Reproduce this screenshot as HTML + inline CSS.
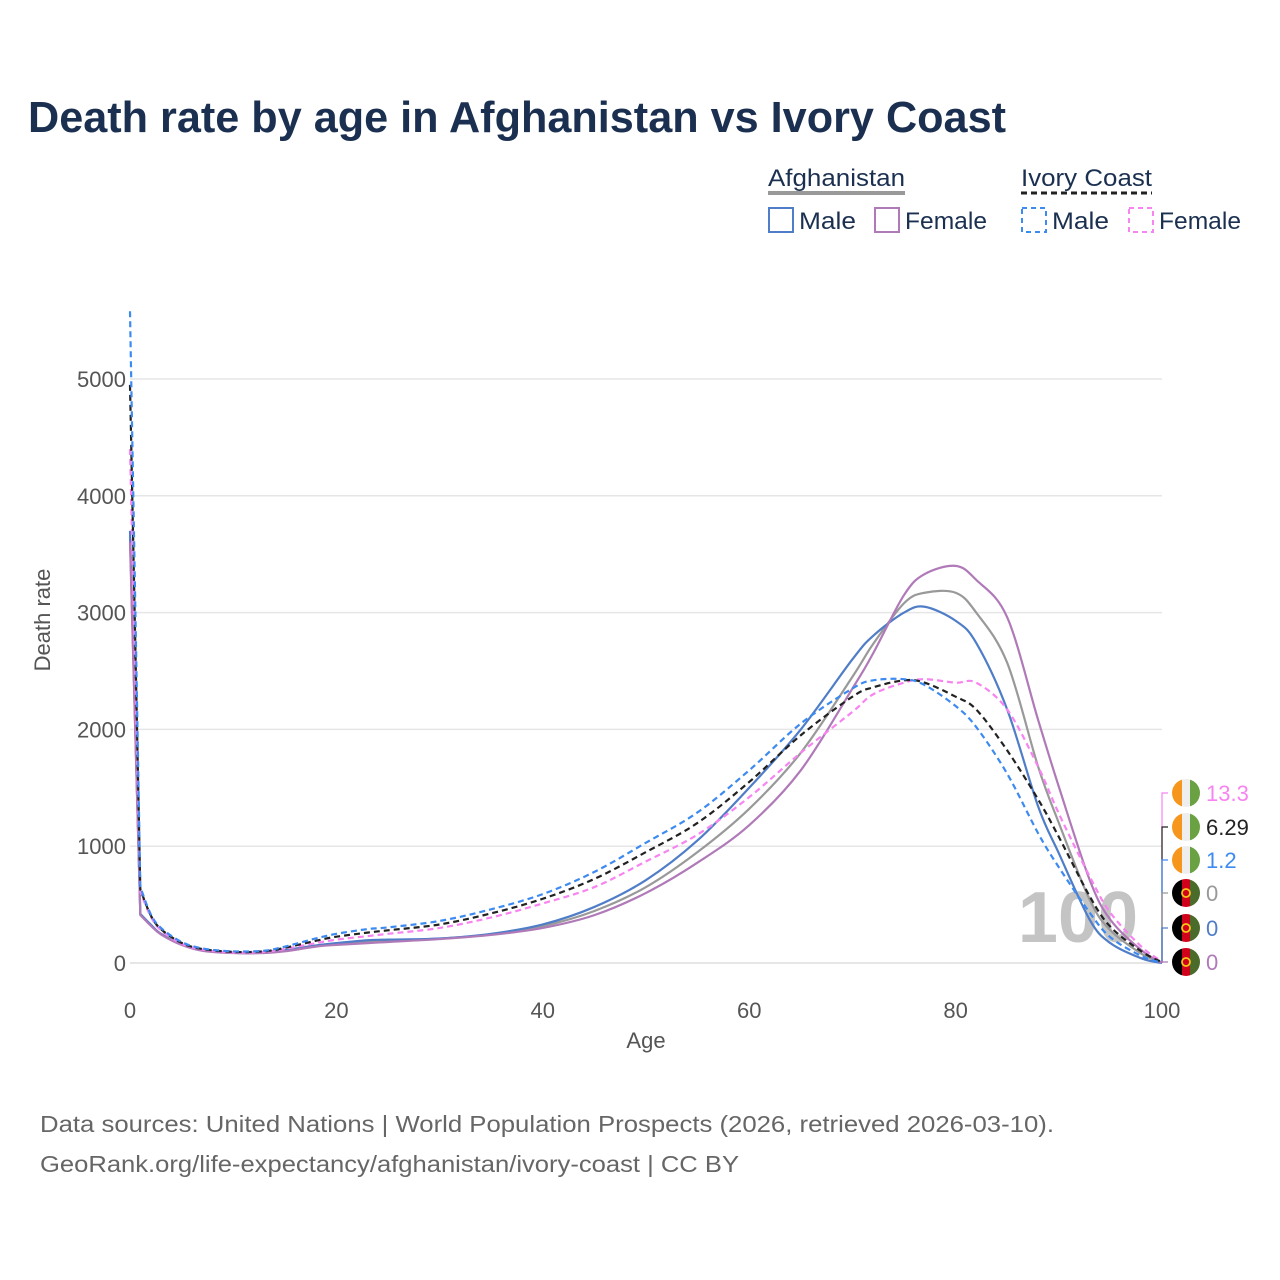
<!DOCTYPE html>
<html><head><meta charset="utf-8"><style>
html,body{margin:0;padding:0;background:#fff;}
svg{display:block;font-family:"Liberation Sans",sans-serif;}
</style></head><body>
<svg id="chart" width="1280" height="1280" viewBox="0 0 1280 1280">
<text x="28" y="132" font-size="44" font-weight="bold" fill="#1b3050" textLength="978" lengthAdjust="spacingAndGlyphs">Death rate by age in Afghanistan vs Ivory Coast</text>
<g>
<text x="768" y="186" font-size="24" fill="#1b3050" textLength="137" lengthAdjust="spacingAndGlyphs">Afghanistan</text>
<line x1="768" y1="193" x2="905" y2="193" stroke="#999" stroke-width="4"/>
<text x="1021" y="186" font-size="24" fill="#1b3050" textLength="131" lengthAdjust="spacingAndGlyphs">Ivory Coast</text>
<line x1="1021" y1="193" x2="1152" y2="193" stroke="#222" stroke-width="3" stroke-dasharray="6,4"/>
<g><rect x="769" y="208" width="24" height="24" fill="none" stroke="#4f7dc7" stroke-width="2"/><text x="799" y="229" font-size="24" fill="#1b3050" textLength="57" lengthAdjust="spacingAndGlyphs">Male</text></g>
<g><rect x="875" y="208" width="24" height="24" fill="none" stroke="#b07ab8" stroke-width="2"/><text x="905" y="229" font-size="24" fill="#1b3050" textLength="82" lengthAdjust="spacingAndGlyphs">Female</text></g>
<g><rect x="1022" y="208" width="24" height="24" fill="none" stroke="#3d8af0" stroke-width="2" stroke-dasharray="5,4"/><text x="1052" y="229" font-size="24" fill="#1b3050" textLength="57" lengthAdjust="spacingAndGlyphs">Male</text></g>
<g><rect x="1129" y="208" width="24" height="24" fill="none" stroke="#f784f0" stroke-width="2" stroke-dasharray="5,4"/><text x="1159" y="229" font-size="24" fill="#1b3050" textLength="82" lengthAdjust="spacingAndGlyphs">Female</text></g>
</g>
<g id="grid"></g>
<text x="1078" y="942" font-size="72" font-weight="bold" fill="#c4c4c4" text-anchor="middle">100</text>
<g id="series"></g>
<g id="axes"></g>
<g id="endlabels"></g>
<text x="50" y="620" font-size="22" fill="#555" text-anchor="middle" transform="rotate(-90 50 620)">Death rate</text>
<text x="646" y="1048" font-size="22" fill="#555" text-anchor="middle">Age</text>
<text x="40" y="1132" font-size="23" fill="#666" textLength="1014" lengthAdjust="spacingAndGlyphs">Data sources: United Nations | World Population Prospects (2026, retrieved 2026-03-10).</text>
<text x="40" y="1172" font-size="23" fill="#666" textLength="699" lengthAdjust="spacingAndGlyphs">GeoRank.org/life-expectancy/afghanistan/ivory-coast | CC BY</text>
</svg>
<script>
const ages =        [0,   1,  2,  3,  5,  7, 10, 13, 15, 18, 20, 23, 25, 30, 35, 40, 45, 50, 55,  60,  65,  70,  72,  75,  77,  80,  82,  85,  88,  90, 93, 95, 98,100];
const afgMale =     [3700,420,330,250,160,110, 90, 90,110,150,170,195,200,210,250,330,480,710,1050,1500,2000,2600,2800,3000,3050,2930,2740,2170,1340,940,370,170, 40, 0];
const afgFemale =   [3600,410,320,245,155,105, 85, 85,100,140,155,170,180,205,240,300,410,600, 860,1180,1650,2350,2650,3150,3330,3400,3280,2960,2080,1510,710,370,110, 0];
const afgTotal =    [3650,415,325,248,158,108, 88, 88,105,145,162,182,190,208,245,315,445,650, 950,1320,1800,2450,2730,3080,3170,3170,3000,2570,1680,1200,540,280, 80, 0];
const icMale =      [5580,650,420,300,180,125,100,105,140,210,250,290,305,360,460,590,780,1030,1290,1650,2050,2350,2420,2430,2380,2200,2020,1620,1110,820,430,220, 60, 1.2];
const icFemale =    [4400,610,400,280,165,115, 90, 95,120,170,200,230,250,300,390,510,650, 870,1100,1420,1800,2150,2300,2400,2430,2400,2400,2170,1680,1280,740,430,140,13.3];
const icTotal =     [4950,630,410,290,172,120, 95,100,130,190,225,260,280,330,425,550,720, 950,1200,1550,1950,2280,2360,2420,2400,2280,2170,1820,1400,1080,570,310,100,6.29];
const xTicks = [0,20,40,60,80,100];
const yTicks = [0,1000,2000,3000,4000,5000];
const NS="http://www.w3.org/2000/svg";
const xS=a=>130+a*10.32, yS=v=>963-v*0.1168;
function mk(tag,attrs,parent){const e=document.createElementNS(NS,tag);for(const k in attrs)e.setAttribute(k,attrs[k]);parent.appendChild(e);return e;}
const grid=document.getElementById('grid'), axes=document.getElementById('axes');
yTicks.forEach(t=>{
  const l=mk('line',{x1:130,x2:1162,y1:yS(t),y2:yS(t),stroke:t===0?'#ddd':'#e6e6e6','stroke-width':1.5},grid);
  
  
  const tx=mk('text',{x:126,y:yS(t)+8,'font-size':22,fill:'#555','text-anchor':'end'},axes);
  tx.textContent=t;
  
  
});
xTicks.forEach(t=>{
  const tx=mk('text',{x:xS(t),y:1018,'font-size':22,fill:'#555','text-anchor':'middle'},axes);
  tx.textContent=t;
  
  
});
function pathFor(vals){
  const p=ages.map((a,i)=>[xS(a),yS(vals[i])]);
  let d='M'+p[0][0]+','+p[0][1]+' L'+p[1][0]+','+p[1][1];
  for(let i=1;i<p.length-1;i++){
    const p0=p[i-1],p1=p[i],p2=p[i+1],p3=p[i+2]||p2;
    const c1=[p1[0]+(p2[0]-(i>1?p0[0]:p1[0]))/6,p1[1]+(p2[1]-(i>1?p0[1]:p1[1]))/6];
    const c2=[p2[0]-(p3[0]-p1[0])/6,p2[1]-(p3[1]-p1[1])/6];
    d+=` C${c1[0]},${c1[1]} ${c2[0]},${c2[1]} ${p2[0]},${p2[1]}`;
  }
  return d;
}
const series=document.getElementById('series');
const defs=[
 ['afg-total-line',afgTotal,'#999',''],
 ['afg-male-line',afgMale,'#4f7dc7',''],
 ['afg-female-line',afgFemale,'#b07ab8',''],
 ['ic-female-line',icFemale,'#f784f0','6,4'],
 ['ic-total-line',icTotal,'#222','6,4'],
 ['ic-male-line',icMale,'#3d8af0','6,4']];
defs.forEach(([n,v,c,da])=>{
  const e=mk('path',{d:pathFor(v),fill:'none',stroke:c,'stroke-width':2.2},series);
  if(da)e.setAttribute('stroke-dasharray',da);
  
  
});
const el=document.getElementById('endlabels');
const labs=[[793,'13.3','#f784f0','ic'],[827,'6.29','#222','ic'],[860,'1.2','#3d8af0','ic'],[893,'0','#999','afg'],[928,'0','#4f7dc7','afg'],[962,'0','#b07ab8','afg']];
const lineCols=['#f784f0','#222','#3d8af0','#999','#4f7dc7','#b07ab8'];
labs.forEach(([y,t,c,f],i)=>{
  const g=mk('g',{},el);
  
  
  mk('path',{d:`M1162,963 L1162,${y} L1168,${y}`,fill:'none',stroke:lineCols[i],'stroke-width':1.2},g);
  const cx=1186,r=14;
  const cp=mk('clipPath',{id:'cf'+i},g);mk('circle',{cx:cx,cy:y,r:r},cp);
  const fg=mk('g',{'clip-path':`url(#cf${i})`},g);
  if(f==='ic'){
    mk('rect',{x:cx-r,y:y-r,width:10,height:2*r,fill:'#f7961d'},fg);
    mk('rect',{x:cx-4,y:y-r,width:8,height:2*r,fill:'#eee'},fg);
    mk('rect',{x:cx+4,y:y-r,width:10,height:2*r,fill:'#6aa142'},fg);
  }else{
    mk('rect',{x:cx-r,y:y-r,width:10,height:2*r,fill:'#000'},fg);
    mk('rect',{x:cx-4,y:y-r,width:8,height:2*r,fill:'#d0021b'},fg);
    mk('rect',{x:cx+4,y:y-r,width:10,height:2*r,fill:'#4a6b2a'},fg);
    mk('circle',{cx:cx,cy:y,r:4,fill:'none',stroke:'#f5c518','stroke-width':1.8},fg);
  }
  const tx=mk('text',{x:1206,y:y+8,'font-size':22,fill:c},g);tx.textContent=t;
});
</script>
</body></html>
